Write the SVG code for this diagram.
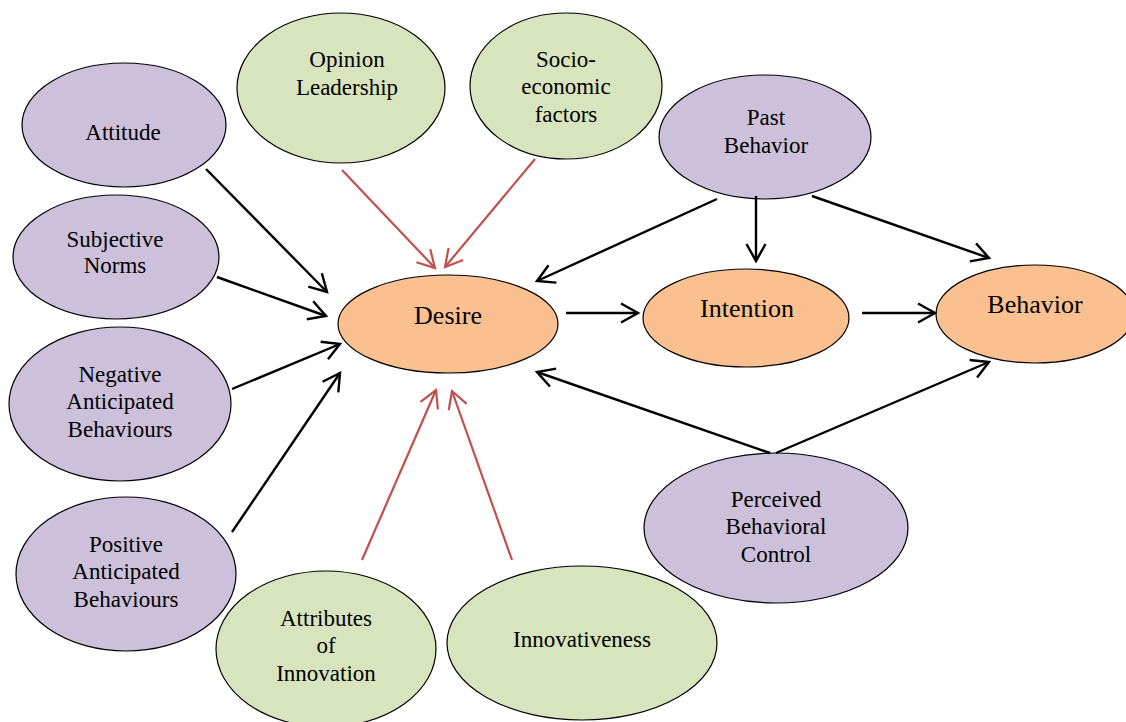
<svg xmlns="http://www.w3.org/2000/svg" width="1126" height="722" viewBox="0 0 1126 722">
<defs>
<style>
.p{fill:#CCC0DA;stroke:#000;stroke-width:1.2}
.g{fill:#D7E4BD;stroke:#000;stroke-width:1.2}
.o{fill:#FAC090;stroke:#000;stroke-width:1.2}
.t{font-family:'Liberation Serif','DejaVu Serif',serif;font-size:23px;fill:#000;text-anchor:middle}
.big{font-size:26px}
.k{stroke:#000;stroke-width:2.4;fill:none;marker-end:url(#ak)}
.r{stroke:#C0504D;stroke-width:2.2;fill:none;marker-end:url(#ar)}
</style>
<marker id="ak" viewBox="0 0 20 20" refX="18" refY="10" markerWidth="20" markerHeight="20" markerUnits="userSpaceOnUse" orient="auto" overflow="visible">
<path d="M1,0.5 L18,10 L1,19.5" fill="none" stroke="#000" stroke-width="2.4"/>
</marker>
<marker id="ar" viewBox="0 0 20 20" refX="18" refY="10" markerWidth="20" markerHeight="20" markerUnits="userSpaceOnUse" orient="auto" overflow="visible">
<path d="M1,0.5 L18,10 L1,19.5" fill="none" stroke="#C0504D" stroke-width="2.2"/>
</marker>
</defs>
<rect width="1126" height="722" fill="#fff"/>
<g class="t" font-family="Liberation Serif, DejaVu Serif, serif">
<g id="attitude"><ellipse class="p" cx="124" cy="125" rx="102" ry="62"/><text x="123" y="140">Attitude</text></g>
<g id="subjective-norms"><ellipse class="p" cx="116" cy="257" rx="103" ry="62"/><text x="115" y="247">Subjective</text><text x="115" y="273">Norms</text></g>
<g id="negative"><ellipse class="p" cx="120" cy="404" rx="111" ry="77"/><text x="120" y="382">Negative</text><text x="120" y="409">Anticipated</text><text x="120" y="437">Behaviours</text></g>
<g id="positive"><ellipse class="p" cx="126" cy="574" rx="110" ry="77"/><text x="126" y="552">Positive</text><text x="126" y="579">Anticipated</text><text x="126" y="607">Behaviours</text></g>
<g id="opinion"><ellipse class="g" cx="341" cy="88" rx="104" ry="75"/><text x="347" y="67">Opinion</text><text x="347" y="95">Leadership</text></g>
<g id="socio"><ellipse class="g" cx="566" cy="86" rx="96" ry="73"/><text x="566" y="67">Socio-</text><text x="566" y="94">economic</text><text x="566" y="122">factors</text></g>
<g id="past-behavior"><ellipse class="p" cx="765" cy="137" rx="106" ry="62"/><text x="766" y="125">Past</text><text x="766" y="153">Behavior</text></g>
<g id="desire"><ellipse class="o" cx="448" cy="324" rx="110" ry="49"/><text class="big" x="448" y="324">Desire</text></g>
<g id="intention"><ellipse class="o" cx="746" cy="318" rx="103" ry="49"/><text class="big" x="747" y="317">Intention</text></g>
<g id="behavior"><ellipse class="o" cx="1035" cy="314" rx="99" ry="49"/><text class="big" x="1035" y="313">Behavior</text></g>
<g id="pbc"><ellipse class="p" cx="776" cy="528" rx="132" ry="75"/><text x="776" y="507">Perceived</text><text x="776" y="534">Behavioral</text><text x="776" y="562">Control</text></g>
<g id="attributes"><ellipse class="g" cx="326" cy="649" rx="110" ry="78"/><text x="326" y="626">Attributes</text><text x="326" y="653">of</text><text x="326" y="681">Innovation</text></g>
<g id="innovativeness"><ellipse class="g" cx="582" cy="643" rx="135" ry="77"/><text x="582" y="647">Innovativeness</text></g>
</g>
<g id="connectors">
<line class="k" x1="206" y1="169" x2="327" y2="292"/>
<line class="k" x1="217" y1="277" x2="326" y2="316"/>
<line class="k" x1="232" y1="389" x2="340" y2="344"/>
<line class="k" x1="232" y1="532" x2="340" y2="373"/>
<line class="r" x1="342" y1="170" x2="435" y2="268"/>
<line class="r" x1="535" y1="159" x2="445" y2="267"/>
<line class="r" x1="362" y1="560" x2="436" y2="390"/>
<line class="r" x1="512" y1="560" x2="452" y2="391"/>
<line class="k" x1="717" y1="199" x2="537" y2="281"/>
<line class="k" x1="756" y1="196" x2="756" y2="261"/>
<line class="k" x1="812" y1="196" x2="989" y2="258"/>
<line class="k" x1="566" y1="313" x2="638" y2="313"/>
<line class="k" x1="862" y1="313" x2="935" y2="313"/>
<line class="k" x1="770" y1="453" x2="537" y2="372"/>
<line class="k" x1="776" y1="453" x2="989" y2="362"/>
</g>
</svg>
